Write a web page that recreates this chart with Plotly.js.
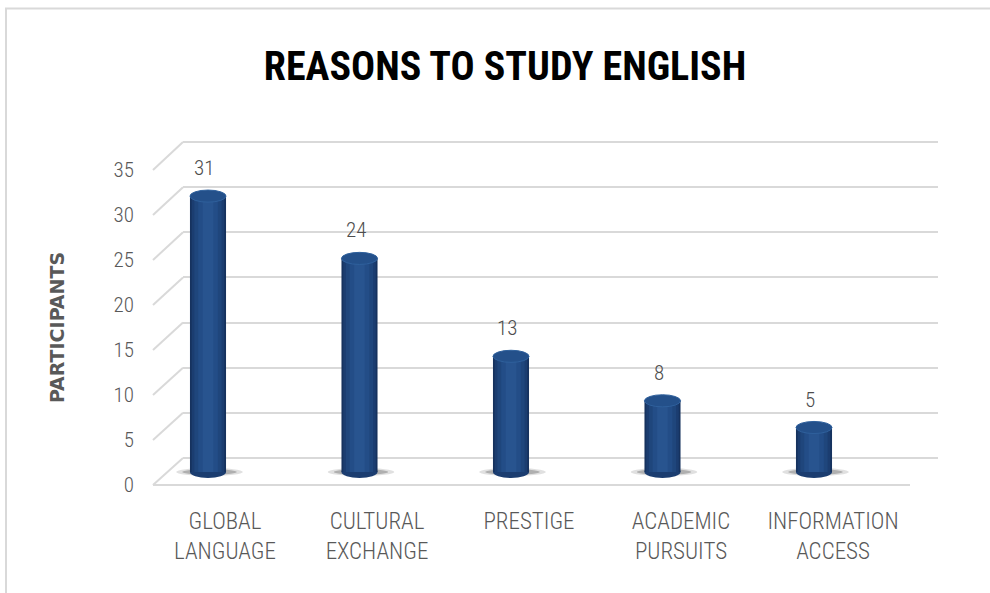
<!DOCTYPE html>
<html>
<head>
<meta charset="utf-8">
<script src="https://cdn.plot.ly/plotly-3.0.1.min.js"></script>
<style>html,body{margin:0;padding:0;background:#fff;}</style>
</head>
<body>
<div id="chart" style="width:990px;height:593px;"></div>
<script>
// ---- data ----
const categories = ['Global Language', 'Cultural Exchange', 'Prestige', 'Academic Pursuits', 'Information Access'];
const tickLabels = ['GLOBAL<br>LANGUAGE', 'CULTURAL<br>EXCHANGE', 'PRESTIGE', 'ACADEMIC<br>PURSUITS', 'INFORMATION<br>ACCESS'];
const values = [31, 24, 13, 8, 5];
const yTicks = [0, 5, 10, 15, 20, 25, 30, 35];
const chartTitle = 'REASONS TO STUDY ENGLISH';
const yTitle = 'PARTICIPANTS';

// ---- geometry helpers (pixel -> paper) ----
const W = 990, H = 593;
const px = x => x / W;
const py = y => 1 - y / H;
const FONT = '"Liberation Sans Narrow", "Arial Narrow", "Roboto Condensed", "Liberation Sans", sans-serif';
const GRID = '#d9d9d9';

// back wall: 0 at y=458px, 35 at y=142px (range padded so edge gridlines render)
const backPPU = (458 - 142) / 35;
const backY = { domain: [py(458 + 0.3 * backPPU), py(142 - 0.3 * backPPU)], range: [-0.3, 35.3] };
const frontY = { domain: [py(485), py(170)], range: [0, 35] };
const barY = { domain: [py(485.35), py(160.5)], range: [-1.5, 35] };
function yPaper(ax, v) {
  return ax.domain[0] + (v - ax.range[0]) / (ax.range[1] - ax.range[0]) * (ax.domain[1] - ax.domain[0]);
}

// ---- traces ----
const traces = [];
traces.push({ type: 'scatter', x: categories, y: values, xaxis: 'x', yaxis: 'y', mode: 'markers', marker: { opacity: 0 }, hoverinfo: 'skip' });
traces.push({ type: 'scatter', x: categories, y: values, xaxis: 'x2', yaxis: 'y2', mode: 'markers', marker: { opacity: 0 }, hoverinfo: 'skip' });

// cylinder shading: overlaid bars, dark edges to lighter centre
const BAR_W = 0.238;
const shades = [
  { w: BAR_W, c: '#16325e' },
  { w: 0.215, c: '#1b3d70' },
  { w: 0.18, c: '#1f467c' },
  { w: 0.13, c: '#234d87' },
  { w: 0.07, c: '#28548f' }
];
shades.forEach(s => {
  traces.push({
    type: 'bar', x: categories, y: values, xaxis: 'x3', yaxis: 'y3',
    width: s.w, marker: { color: s.c, line: { width: 0 } }, hoverinfo: 'skip'
  });
});

// ---- shapes ----
const shapes = [];
// frame
shapes.push({ type: 'line', xref: 'paper', yref: 'paper', x0: px(5), x1: 1, y0: py(8.5), y1: py(8.5), line: { color: GRID, width: 2 } });
shapes.push({ type: 'line', xref: 'paper', yref: 'paper', x0: px(6), x1: px(6), y0: py(8.5), y1: 0, line: { color: GRID, width: 2 } });
// side-wall diagonals from front tick to back gridline
yTicks.forEach(t => {
  shapes.push({ type: 'line', xref: 'paper', yref: 'paper', x0: px(153), x1: px(183),
    y0: yPaper(frontY, t), y1: yPaper(backY, t), line: { color: GRID, width: 2 } });
});
// front floor edge
shapes.push({ type: 'line', xref: 'paper', yref: 'paper', x0: px(153), x1: px(910),
  y0: yPaper(frontY, 0), y1: yPaper(frontY, 0), line: { color: GRID, width: 2 } });

const EH = 0.68; // half-height of cylinder ellipse in value units
values.forEach((v, i) => {
  // floor shadow
  shapes.push({ type: 'circle', xref: 'x3', yref: 'y3', layer: 'below', x0: i - 0.21, x1: i + 0.23, y0: -0.45, y1: 0.45,
    fillcolor: 'rgba(0,0,0,0.12)', line: { width: 0 } });
  shapes.push({ type: 'circle', xref: 'x3', yref: 'y3', layer: 'below', x0: i - 0.17, x1: i + 0.19, y0: -0.32, y1: 0.32,
    fillcolor: 'rgba(0,0,0,0.22)', line: { width: 0 } });
  // rounded bottom
  shapes.push({ type: 'circle', xref: 'x3', yref: 'y3', layer: 'below', x0: i - BAR_W / 2, x1: i + BAR_W / 2, y0: -EH, y1: EH,
    fillcolor: '#1b3d70', line: { width: 0 } });
  // top cap
  shapes.push({ type: 'circle', xref: 'x3', yref: 'y3', layer: 'above', x0: i - BAR_W / 2, x1: i + BAR_W / 2, y0: v - EH, y1: v + EH,
    fillcolor: '#24508a', line: { color: '#2f609c', width: 1 } });
});

// ---- data labels ----
const annotations = values.map((v, i) => ({
  xref: 'x3', yref: 'y3', x: i, y: v, text: String(v), showarrow: false,
  yanchor: 'bottom', yshift: 14, xshift: -4,
  font: { family: FONT, size: 21, color: '#4d4d4d', weight: 300 }
}));

const layout = {
  width: W, height: H,
  margin: { l: 0, r: 0, t: 0, b: 0 },
  paper_bgcolor: '#ffffff', plot_bgcolor: 'rgba(0,0,0,0)',
  showlegend: false, barmode: 'overlay', hovermode: false,
  title: { text: chartTitle, x: px(505), xanchor: 'center', xref: 'paper', y: py(66), yanchor: 'middle', yref: 'paper',
    font: { family: FONT, size: 40, color: '#000000', weight: 700 } },
  // back wall grid
  xaxis: { domain: [px(183), px(938)], type: 'category', range: [-0.5, 4.5], anchor: 'y',
    showgrid: false, showticklabels: false, zeroline: false, showline: false, fixedrange: true },
  yaxis: { domain: backY.domain, range: backY.range, anchor: 'x', tickvals: yTicks,
    showgrid: true, gridcolor: GRID, gridwidth: 2, zeroline: false, showticklabels: false, showline: false, fixedrange: true },
  // front labels
  xaxis2: { domain: [px(149), px(909)], type: 'category', range: [-0.5, 4.5], anchor: 'free', position: py(486),
    tickvals: categories, ticktext: tickLabels, ticks: '', showgrid: false, zeroline: false, showline: false,
    ticklabelstandoff: 19, tickfont: { family: FONT, size: 23, color: '#595959', weight: 300 }, fixedrange: true },
  yaxis2: { domain: frontY.domain, range: frontY.range, anchor: 'free', position: px(134), tickvals: yTicks, ticks: '',
    showgrid: false, zeroline: false, showline: false, tickfont: { family: FONT, size: 21, color: '#595959', weight: 300 },
    title: { text: yTitle, standoff: 42, font: { family: 'DejaVu Sans', size: 19, color: '#595959', weight: 700 } },
    fixedrange: true },
  // bars
  xaxis3: { domain: [px(132.25), px(889.75)], type: 'category', range: [-0.5, 4.5], anchor: 'y3',
    showgrid: false, showticklabels: false, zeroline: false, showline: false, fixedrange: true },
  yaxis3: { domain: barY.domain, range: barY.range, anchor: 'x3',
    showgrid: false, showticklabels: false, zeroline: false, showline: false, fixedrange: true },
  shapes: shapes,
  annotations: annotations
};

Plotly.newPlot('chart', traces, layout, { displayModeBar: false, staticPlot: true });
</script>
</body>
</html>
